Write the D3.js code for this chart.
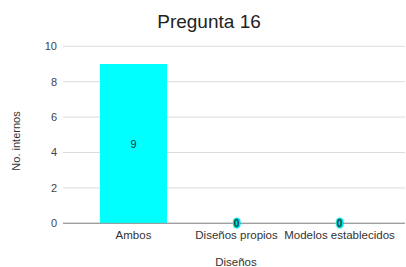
<!DOCTYPE html>
<html>
<head>
<meta charset="utf-8">
<script src="https://cdn.jsdelivr.net/npm/d3@7"></script>
<style>
  body { margin: 0; background: #fff; }
  svg { display: block; font-family: "Liberation Sans", Arial, sans-serif; }
</style>
</head>
<body>
<div id="chart"></div>
<script>
// chart data
const categories = ["Ambos", "Diseños propios", "Modelos establecidos"];
const counts = [9, 0, 0];
const yTicks = [0, 2, 4, 6, 8, 10];

const width = 406, height = 267;

const svg = d3.select("#chart").append("svg")
    .attr("width", width)
    .attr("height", height);

const xScale = d3.scaleBand()
    .domain(categories)
    .range([82, 391])
    .paddingInner(0.35)
    .paddingOuter(0.175);

const yScale = d3.scaleLinear()
    .domain([0, 10])
    .range([223.3, 46.3]);

// title
svg.append("text")
    .attr("x", 209)
    .attr("y", 28)
    .attr("text-anchor", "middle")
    .attr("font-size", "19px")
    .attr("fill", "#222")
    .text("Pregunta 16");

// gridlines + y labels
const yAxis = svg.append("g");
yAxis.selectAll("line")
    .data(yTicks)
    .enter()
    .append("line")
        .attr("x1", 63)
        .attr("x2", 405)
        .attr("y1", d => yScale(d))
        .attr("y2", d => yScale(d))
        .attr("stroke", d => d === 0 ? "#9a9a9a" : "#dcdcdc")
        .attr("stroke-width", 1);

yAxis.selectAll("text")
    .data(yTicks)
    .enter()
    .append("text")
        .attr("x", 57)
        .attr("y", d => yScale(d))
        .attr("dy", "0.35em")
        .attr("text-anchor", "end")
        .attr("font-size", "11px")
        .attr("fill", "#444")
        .text(d => d);

// bars
svg.selectAll("rect.bar")
    .data(categories)
    .enter()
    .append("rect")
        .attr("class", "bar")
        .attr("x", d => xScale(d))
        .attr("width", xScale.bandwidth())
        .attr("y", (d, i) => yScale(counts[i]))
        .attr("height", (d, i) => yScale(0) - yScale(counts[i]))
        .attr("fill", "#00ffff");

// redraw baseline over bars
svg.append("line")
    .attr("x1", 63)
    .attr("x2", 405)
    .attr("y1", yScale(0))
    .attr("y2", yScale(0))
    .attr("stroke", "#9a9a9a");

// value labels
svg.selectAll("text.value")
    .data(categories)
    .enter()
    .append("text")
        .attr("class", "value")
        .attr("x", d => xScale(d) + xScale.bandwidth() / 2)
        .attr("y", (d, i) => counts[i] > 0 ? (yScale(counts[i]) + yScale(0)) / 2 : yScale(0))
        .attr("dy", "0.35em")
        .attr("text-anchor", "middle")
        .attr("font-size", (d, i) => counts[i] > 0 ? "11px" : "10px")
        .attr("font-weight", (d, i) => counts[i] > 0 ? "normal" : "bold")
        .attr("fill", "#1a3a3a")
        .attr("stroke", (d, i) => counts[i] > 0 ? "none" : "#00e5e5")
        .attr("stroke-width", 3)
        .attr("stroke-linejoin", "round")
        .attr("paint-order", "stroke")
        .text((d, i) => counts[i]);

// x labels
svg.selectAll("text.xlabel")
    .data(categories)
    .enter()
    .append("text")
        .attr("class", "xlabel")
        .attr("x", d => xScale(d) + xScale.bandwidth() / 2)
        .attr("y", 239)
        .attr("text-anchor", "middle")
        .attr("font-size", "11.5px")
        .attr("fill", "#333")
        .text(d => d);

// axis titles
svg.append("text")
    .attr("x", 236)
    .attr("y", 266)
    .attr("text-anchor", "middle")
    .attr("font-size", "11.5px")
    .attr("fill", "#333")
    .text("Diseños");

svg.append("text")
    .attr("transform", "rotate(-90)")
    .attr("x", -141)
    .attr("y", 20)
    .attr("text-anchor", "middle")
    .attr("font-size", "11px")
    .attr("fill", "#333")
    .text("No. internos");
</script>
</body>
</html>
